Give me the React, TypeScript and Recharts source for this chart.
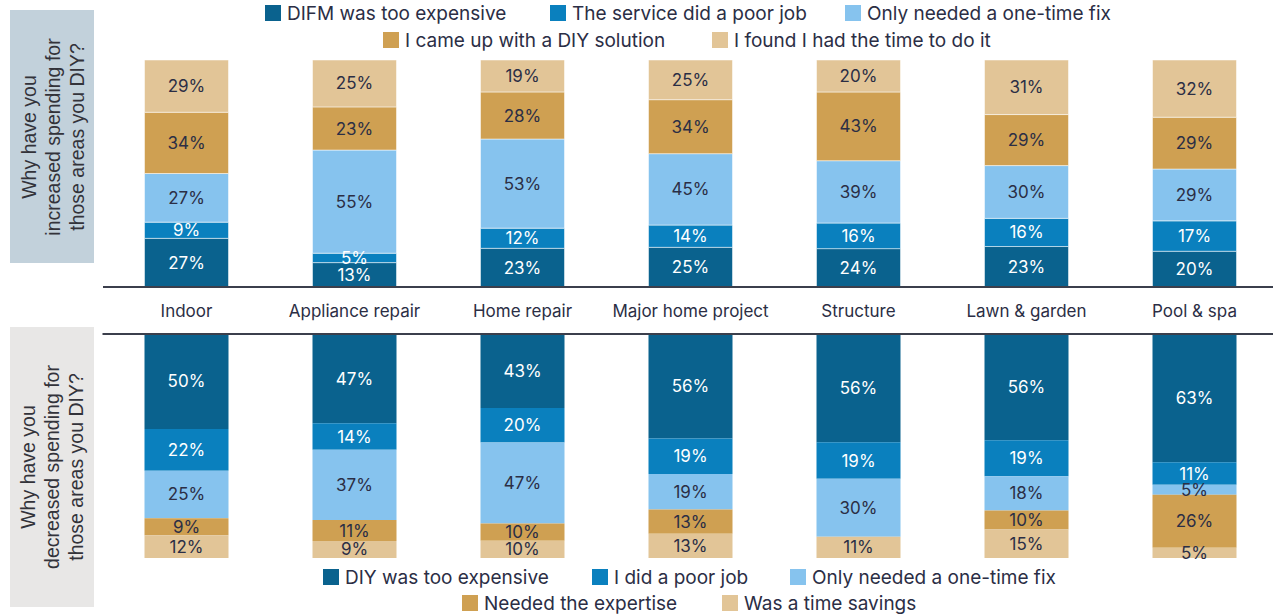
import { BarChart, Bar, XAxis, YAxis, LabelList } from 'recharts';

const categories = ['Indoor', 'Appliance repair', 'Home repair', 'Major home project', 'Structure', 'Lawn & garden', 'Pool & spa'];

// increased DIY spending reasons (%)
const incExpensive = [27, 13, 23, 25, 24, 23, 20];
const incPoorJob = [9, 5, 12, 14, 16, 16, 17];
const incOneTime = [27, 55, 53, 45, 39, 30, 29];
const incDiySolution = [34, 23, 28, 34, 43, 29, 29];
const incHadTime = [29, 25, 19, 25, 20, 31, 32];

// decreased DIY spending reasons (%)
const decExpensive = [50, 47, 43, 56, 56, 56, 63];
const decPoorJob = [22, 14, 20, 19, 19, 19, 11];
const decOneTime = [25, 37, 47, 19, 30, 18, 5];
const decExpertise = [9, 11, 10, 13, 0, 10, 26];
const decTimeSavings = [12, 9, 10, 13, 11, 15, 5];

const COLORS = ['#0A628E', '#0A80BE', '#86C3EE', '#CFA052', '#E2C597'];
const TEXT = '#2B2E45';
const AXIS = '#3B3F4C';
const FONT = 'Inter, "Noto Sans", sans-serif';

const topData = categories.map((name, i) => ({
  name,
  a: incExpensive[i],
  b: incPoorJob[i],
  c: incOneTime[i],
  d: incDiySolution[i],
  e: incHadTime[i],
}));

const bottomData = categories.map((name, i) => ({
  name,
  a: decExpensive[i],
  b: decPoorJob[i],
  c: decOneTime[i],
  d: decExpertise[i],
  e: decTimeSavings[i],
}));

const keys = ['a', 'b', 'c', 'd', 'e'];

const topLegend = [
  { label: 'DIFM was too expensive', x: 265, y: 13, color: COLORS[0] },
  { label: 'The service did a poor job', x: 550, y: 13, color: COLORS[1] },
  { label: 'Only needed a one-time fix', x: 845, y: 13, color: COLORS[2] },
  { label: 'I came up with a DIY solution', x: 383, y: 40, color: COLORS[3] },
  { label: 'I found I had the time to do it', x: 712, y: 40, color: COLORS[4] },
];

const bottomLegend = [
  { label: 'DIY was too expensive', x: 323, y: 577, color: COLORS[0] },
  { label: 'I did a poor job', x: 592, y: 577, color: COLORS[1] },
  { label: 'Only needed a one-time fix', x: 790, y: 577, color: COLORS[2] },
  { label: 'Needed the expertise', x: 462, y: 603, color: COLORS[3] },
  { label: 'Was a time savings', x: 722, y: 603, color: COLORS[4] },
];

const pct = (v: any) => (v ? `${v}%` : '');

// bottom chart starts at page y=280; labels sit at page y=311
const CategoryTick = (props: any) => {
  const { x, payload } = props;
  return (
    <text x={x} y={31} textAnchor="middle" dominantBaseline="central" fill={TEXT} fontSize={17} fontFamily={FONT}>
      {payload.value}
    </text>
  );
};

function LegendItems({ items }: { items: typeof topLegend }) {
  return (
    <>
      {items.map((it) => (
        <div
          key={it.label}
          style={{
            position: 'absolute',
            left: it.x,
            top: it.y - 11,
            height: 22,
            display: 'flex',
            alignItems: 'center',
            whiteSpace: 'nowrap',
            fontFamily: FONT,
            fontSize: 19,
            color: TEXT,
          }}
        >
          <span style={{ width: 16, height: 16, background: it.color, marginRight: 6, display: 'inline-block' }} />
          {it.label}
        </div>
      ))}
    </>
  );
}

function SidePanel({ top, height, bg, lines }: { top: number; height: number; bg: string; lines: string[] }) {
  return (
    <div style={{ position: 'absolute', left: 10, top, width: 84, height, background: bg, overflow: 'hidden' }}>
      <div
        style={{
          position: 'absolute',
          width: height,
          height: 84,
          left: (84 - height) / 2,
          top: (height - 84) / 2,
          transform: 'rotate(-90deg)',
          display: 'flex',
          flexDirection: 'column',
          justifyContent: 'center',
          alignItems: 'center',
          fontFamily: '"Liberation Sans", Arial, sans-serif',
          fontSize: 19.5,
          lineHeight: '24px',
          color: '#33333A',
        }}
      >
        {lines.map((l) => (
          <div key={l} style={{ whiteSpace: 'nowrap' }}>{l}</div>
        ))}
      </div>
    </div>
  );
}

export default function App() {
  return (
    <div style={{ position: 'absolute', left: 0, top: 0, width: 1273, height: 615, overflow: 'hidden', background: '#fff' }}>
      <SidePanel top={10} height={253} bg="#C2D1DB" lines={['Why have you', 'increased spending for', 'those areas you DIY?']} />
      <SidePanel top={327} height={280} bg="#E8E7E6" lines={['Why have you', 'decreased spending for', 'those areas you DIY?']} />

      <div style={{ position: 'absolute', left: 0, top: 0 }}>
        <BarChart
          width={1280}
          height={300}
          data={topData}
          stackOffset="expand"
          barSize={84}
          margin={{ top: 60, right: 1.5, bottom: 13, left: 102.5 }}
        >
          <XAxis dataKey="name" hide />
          <YAxis hide domain={[0, 1]} />
          {keys.map((k, i) => (
            <Bar key={k} dataKey={k} stackId="s" fill={COLORS[i]} stroke="#ffffff" strokeOpacity={0.5} strokeWidth={1} isAnimationActive={false}>
              <LabelList
                dataKey={k}
                position="center"
                formatter={pct}
                fill={i < 2 ? '#FFFFFF' : TEXT}
                fontSize={17}
                fontFamily={FONT}
              />
            </Bar>
          ))}
        </BarChart>
      </div>

      <div style={{ position: 'absolute', left: 0, top: 280 }}>
        <BarChart
          width={1280}
          height={290}
          data={bottomData}
          stackOffset="expand"
          barSize={84}
          margin={{ top: 7, right: 1.5, bottom: 12, left: 102.5 }}
        >
          <XAxis
            dataKey="name"
            orientation="top"
            height={47}
            tickLine={false}
            tick={<CategoryTick />}
            interval={0}
            axisLine={{ stroke: AXIS, strokeWidth: 2 }}
          />
          <YAxis hide domain={[0, 1]} reversed />
          {keys.map((k, i) => (
            <Bar key={k} dataKey={k} stackId="s" fill={COLORS[i]} isAnimationActive={false}>
              <LabelList
                dataKey={k}
                position="center"
                formatter={pct}
                fill={i < 2 ? '#FFFFFF' : TEXT}
                fontSize={17}
                fontFamily={FONT}
              />
            </Bar>
          ))}
        </BarChart>
      </div>

      {/* divider under the upper bars */}
      <div style={{ position: 'absolute', left: 103, top: 286, width: 1170, height: 2, background: AXIS, zIndex: 5 }} />

      <LegendItems items={topLegend} />
      <LegendItems items={bottomLegend} />
    </div>
  );
}
